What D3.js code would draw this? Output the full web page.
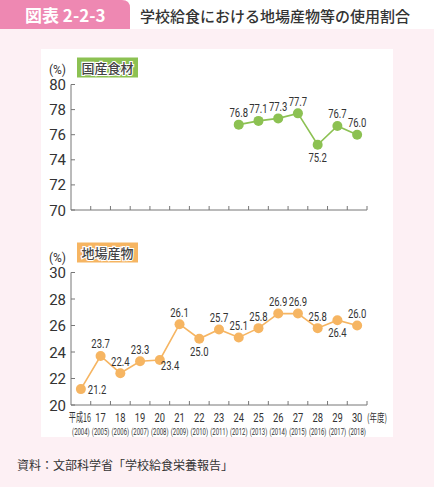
<!DOCTYPE html>
<html>
<head>
<meta charset="utf-8">
<script src="https://cdn.jsdelivr.net/npm/d3@7"></script>
<style>
  html, body { margin: 0; padding: 0; background: #fff; }
  svg { display: block; }
  .jp { font-family: "Noto Sans CJK JP", sans-serif; }
  .num { font-family: Roboto, "Noto Sans", sans-serif; }
</style>
</head>
<body>
<svg id="chart" width="434" height="487"></svg>
<script>
// fiscal year labels (Heisei era) and western years
const years = ['平成16', '17', '18', '19', '20', '21', '22', '23', '24', '25', '26', '27', '28', '29', '30'];
const westernYears = ['2004', '2005', '2006', '2007', '2008', '2009', '2010', '2011', '2012', '2013', '2014', '2015', '2016', '2017', '2018'];

// domestic food share (only from H24)
const domesticYears = ['24', '25', '26', '27', '28', '29', '30'];
const domesticValues = [76.8, 77.1, 77.3, 77.7, 75.2, 76.7, 76.0];
const domesticLabelPos = ['above', 'above', 'above', 'above', 'below', 'above', 'above'];

// local produce share
const localValues = [21.2, 23.7, 22.4, 23.3, 23.4, 26.1, 25.0, 25.7, 25.1, 25.8, 26.9, 26.9, 25.8, 26.4, 26.0];
const localLabelPos = ['right', 'above', 'above', 'above', 'rightBelow', 'above', 'below', 'above',
  'above', 'above', 'above', 'above', 'above', 'below', 'above'];

const domesticTicks = [70, 72, 74, 76, 78, 80];
const localTicks = [20, 22, 24, 26, 28, 30];

const svg = d3.select('#chart');
const axisColor = '#777';
const green = '#8cc152';
const orange = '#f6b562';

// background
svg.append('rect').attr('x', 0).attr('y', 29).attr('width', 434).attr('height', 458).attr('fill', '#fdf0f4');
svg.append('rect').attr('x', 41).attr('y', 49).attr('width', 352).attr('height', 388).attr('fill', '#fff');

// header tab
svg.append('path')
    .attr('d', 'M0,0 H122 Q130,0 130,8 V29 H0 Z')
    .attr('fill', '#ee88b2');
svg.append('text').attr('class', 'jp')
    .attr('x', 25).attr('y', 22)
    .attr('fill', '#fff').attr('font-size', 17).attr('font-weight', 700)
    .text('図表 2-2-3');
svg.append('text').attr('class', 'jp')
    .attr('x', 140).attr('y', 21.5)
    .attr('fill', '#333').attr('font-size', 15).attr('font-weight', 500)
    .text('学校給食における地場産物等の使用割合');

const x = d3.scaleBand().domain(years).range([71, 367]);
const cx = d => x(d) + x.bandwidth() / 2;

/**
 * Draws one panel: axes, legend box, line, points and value labels.
 */
function drawPanel(opts) {
  const y = d3.scaleLinear().domain(opts.domain).range(opts.range);
  const g = svg.append('g');

  // y axis
  g.append('line')
      .attr('x1', 71).attr('x2', 71)
      .attr('y1', y(opts.domain[1])).attr('y2', y(opts.domain[0]))
      .attr('stroke', axisColor);
  g.selectAll('.ytick').data(opts.ticks).enter().append('line')
      .attr('x1', 71).attr('x2', 75)
      .attr('y1', d => y(d)).attr('y2', d => y(d))
      .attr('stroke', axisColor);
  g.selectAll('.ylab').data(opts.ticks).enter().append('text')
      .attr('class', 'num')
      .attr('x', 66).attr('y', d => y(d) + 5.5)
      .attr('text-anchor', 'end').attr('font-size', 15).attr('fill', '#333')
      .text(d => d);
  g.append('text').attr('class', 'num')
      .attr('x', 66).attr('y', y(opts.domain[1]) - 11)
      .attr('text-anchor', 'end').attr('font-size', 12).attr('fill', '#333')
      .text('(%)');

  // x axis with ticks at band edges
  const base = y(opts.domain[0]);
  g.append('line')
      .attr('x1', 71).attr('x2', 367)
      .attr('y1', base).attr('y2', base)
      .attr('stroke', axisColor);
  g.selectAll('.xtick').data(years).enter().append('line')
      .attr('x1', d => x(d) + x.bandwidth()).attr('x2', d => x(d) + x.bandwidth())
      .attr('y1', base).attr('y2', base - 4)
      .attr('stroke', axisColor);

  // legend box
  g.append('rect')
      .attr('x', 77).attr('y', opts.boxY).attr('width', 61).attr('height', 20)
      .attr('fill', opts.color);
  g.append('text').attr('class', 'jp')
      .attr('x', 107.5).attr('y', opts.boxY + 15)
      .attr('text-anchor', 'middle').attr('font-size', 13).attr('font-weight', 500)
      .attr('fill', '#444').attr('stroke', '#fff').attr('stroke-width', 2.2)
      .attr('paint-order', 'stroke')
      .text(opts.title);

  const pts = opts.values.map((v, i) => ({cat: opts.cats[i], v: v, pos: opts.pos[i]}));

  g.append('path')
      .datum(pts)
      .attr('fill', 'none').attr('stroke', opts.color).attr('stroke-width', 1.6)
      .attr('d', d3.line().x(d => cx(d.cat)).y(d => y(d.v)));

  g.selectAll('.pt').data(pts).enter().append('circle')
      .attr('cx', d => cx(d.cat)).attr('cy', d => y(d.v)).attr('r', 5)
      .attr('fill', opts.color);

  const offs = {
    above: [0, -7.5, 'middle'],
    below: [0, 17, 'middle'],
    right: [7, 4.5, 'start'],
    rightBelow: [1, 10, 'start']
  };
  // labels are squeezed to mimic the condensed face of the original
  g.selectAll('.vlab').data(pts).enter().append('text')
      .attr('class', 'num')
      .attr('x', d => cx(d.cat) + offs[d.pos][0])
      .attr('y', d => y(d.v) + offs[d.pos][1])
      .attr('text-anchor', d => offs[d.pos][2])
      .attr('font-size', 13).attr('fill', '#333')
      .attr('textLength', 18.5).attr('lengthAdjust', 'spacingAndGlyphs')
      .text(d => d.v.toFixed(1));
}

drawPanel({
  domain: [70, 80], range: [210, 84.5], ticks: domesticTicks,
  cats: domesticYears, values: domesticValues, pos: domesticLabelPos,
  color: green, title: '国産食材', boxY: 57.5
});

drawPanel({
  domain: [20, 30], range: [405, 272.5], ticks: localTicks,
  cats: years, values: localValues, pos: localLabelPos,
  color: orange, title: '地場産物', boxY: 242.5
});

// x tick labels
svg.selectAll('.xlab').data(years).enter().append('text')
    .attr('class', d => d.length > 2 ? 'jp' : 'num')
    .attr('x', d => cx(d) + (d.length > 2 ? -1 : 0)).attr('y', 422)
    .attr('text-anchor', 'middle').attr('font-size', 12)
    .attr('textLength', d => d.length > 2 ? 22 : 10.5).attr('lengthAdjust', 'spacingAndGlyphs')
    .attr('fill', '#333')
    .text(d => d);
svg.selectAll('.wlab').data(westernYears).enter().append('text')
    .attr('class', 'num')
    .attr('x', (d, i) => cx(years[i])).attr('y', 435)
    .attr('text-anchor', 'middle').attr('font-size', 8.5).attr('fill', '#333')
    .attr('textLength', 17.5).attr('lengthAdjust', 'spacingAndGlyphs')
    .text(d => '(' + d + ')');
svg.append('text').attr('class', 'jp')
    .attr('x', 367).attr('y', 422)
    .attr('font-size', 11).attr('fill', '#333')
    .attr('textLength', 20).attr('lengthAdjust', 'spacingAndGlyphs')
    .text('(年度)');

// source
svg.append('text').attr('class', 'jp')
    .attr('x', 17).attr('y', 469.5)
    .attr('font-size', 12).attr('fill', '#333')
    .text('資料：文部科学省「学校給食栄養報告」');
</script>
</body>
</html>
